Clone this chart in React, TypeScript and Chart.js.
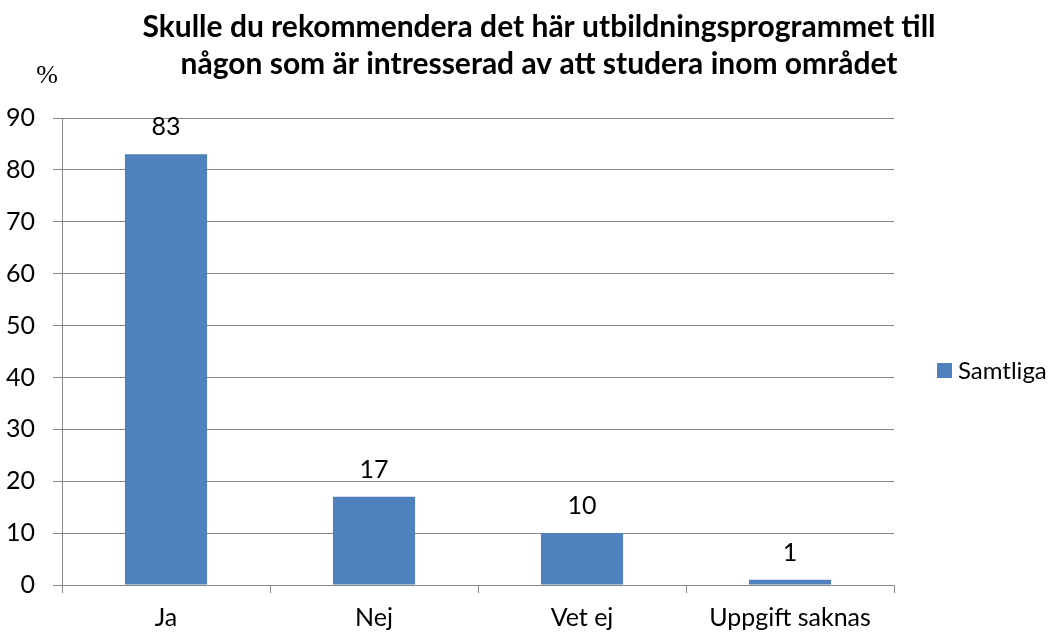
import React, { useEffect, useRef } from "react";
import { Chart, registerables } from "chart.js";

Chart.register(...registerables);

const categories = ["Ja", "Nej", "Vet ej", "Uppgift saknas"];
const values = [83, 17, 10, 1];
const seriesName = "Samtliga";
const titleLines = [
  "Skulle du rekommendera det här utbildningsprogrammet till",
  "någon som är intresserad av att studera inom området",
];
const yTicks = [0, 10, 20, 30, 40, 50, 60, 70, 80, 90];

const FONT = "Lato, 'Open Sans', sans-serif";
const BAR = "#4F81BD";
const GRID = "#868686";

const overlay = {
  id: "overlay",
  afterDraw(chart: any) {
    const ctx = chart.ctx;
    ctx.save();
    ctx.fillStyle = "#000";
    ctx.textAlign = "center";
    ctx.textBaseline = "alphabetic";
    // fit title width
    ctx.font = `bold 100px ${FONT}`;
    const w = ctx.measureText(titleLines[0]).width;
    const size = Math.min(30, (100 * 794) / w);
    ctx.font = `bold ${size}px ${FONT}`;
    ctx.fillText(titleLines[0], 539, 37);
    ctx.fillText(titleLines[1], 539, 74);
    ctx.font = "26px 'Liberation Serif', serif";
    ctx.textBaseline = "middle";
    ctx.fillText("%", 47, 76);
    // data labels
    const meta = chart.getDatasetMeta(0);
    ctx.font = `25px ${FONT}`;
    ctx.textBaseline = "alphabetic";
    meta.data.forEach((el: any, i: number) => {
      ctx.fillText(String(values[i]), el.x, el.y - 19);
    });
    // legend
    ctx.fillStyle = BAR;
    ctx.fillRect(937, 363, 15, 15);
    ctx.fillStyle = "#000";
    ctx.textAlign = "left";
    ctx.textBaseline = "middle";
    ctx.font = `24px ${FONT}`;
    ctx.fillText(seriesName, 958, 371);
    ctx.restore();
  },
};

export default function App() {
  const ref = useRef<HTMLCanvasElement>(null);
  useEffect(() => {
    const chart = new Chart(ref.current!, {
      type: "bar",
      data: {
        labels: categories,
        datasets: [
          {
            label: seriesName,
            data: values,
            backgroundColor: BAR,
            categoryPercentage: 1,
            barPercentage: 0.395,
          },
        ],
      },
      options: {
        animation: false,
        responsive: false,
        layout: { padding: { top: 118, right: 160, left: 0, bottom: 0 } },
        plugins: { legend: { display: false }, tooltip: { enabled: false } },
        scales: {
          x: {
            grid: {
              offset: true,
              drawOnChartArea: false,
              drawTicks: true,
              tickLength: 8,
              color: GRID,
            },
            border: { color: GRID },
            ticks: { color: "#000", font: { family: FONT, size: 25 }, padding: 10 },
            afterFit: (s: any) => {
              s.height = 47;
            },
          },
          y: {
            min: 0,
            max: 90,
            afterBuildTicks: (s: any) => {
              s.ticks = yTicks.map((v) => ({ value: v }));
            },
            grid: { color: GRID, tickLength: 9 },
            border: { color: GRID },
            ticks: { color: "#000", font: { family: FONT, size: 25 }, padding: 18 },
            afterFit: (s: any) => {
              s.width = 62;
            },
          },
        },
      },
      plugins: [overlay],
    });
    return () => chart.destroy();
  }, []);
  return (
    <canvas
      ref={ref}
      width={1054}
      height={632}
      style={{ position: "absolute", left: 0, top: 0, width: 1054, height: 632 }}
    />
  );
}
